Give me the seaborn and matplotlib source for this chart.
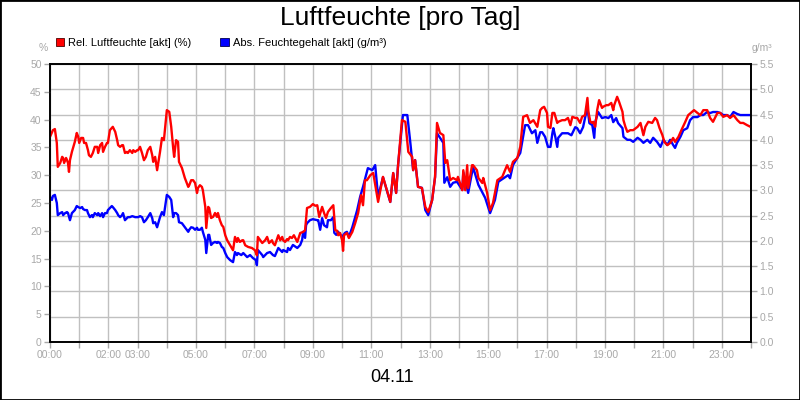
import pandas as pd
import matplotlib.pyplot as plt
from matplotlib.patches import Patch, Rectangle
import seaborn as sns

# relative humidity [%], minutes after midnight
rel_min = [0, 6, 10, 14, 16, 21, 25, 27, 29, 33, 35, 37, 39, 41, 45, 51, 55, 58, 60, 64,
           68, 70, 74, 78, 80, 84, 88, 92, 97, 99, 103, 107, 109, 113, 117, 119, 123, 127, 129, 134,
           138, 140, 144, 148, 150, 154, 158, 160, 164, 169, 171, 175, 179, 181, 185, 189, 193, 197, 201, 206,
           210, 212, 216, 220, 226, 230, 234, 240, 245, 249, 253, 255, 259, 263, 265, 271, 277, 284, 286, 290,
           294, 298, 302, 304, 308, 312, 314, 319, 321, 325, 327, 331, 335, 339, 343, 345, 349, 353, 356, 360,
           364, 370, 376, 380, 384, 386, 390, 395, 397, 401, 407, 415, 421, 425, 427, 432, 436, 442, 446, 450,
           456, 458, 462, 469, 473, 477, 479, 483, 487, 489, 493, 497, 501, 508, 514, 520, 524, 528, 534, 540,
           545, 549, 553, 559, 563, 567, 571, 577, 582, 586, 590, 592, 596, 600, 602, 604, 610, 614, 621, 627,
           633, 639, 643, 647,
           651, 658, 664, 674, 684, 699, 705, 711, 715, 723, 730, 736, 744, 746, 750, 756, 764, 771, 777, 785,
           791, 795, 801, 808, 812, 816, 822, 828, 836, 838, 847, 849, 853, 857, 859, 867, 869, 877, 880, 888,
           890, 898, 904, 910, 919, 929, 939, 945, 951, 960, 966, 972, 980, 986, 993, 1001, 1007,
           1011, 1015, 1021, 1023, 1028, 1032, 1036, 1042, 1044, 1052, 1058, 1064, 1069, 1073, 1079,
           1083, 1089, 1093, 1099, 1104, 1106, 1110, 1114, 1116, 1120, 1124, 1128, 1134, 1136, 1143, 1147, 1153, 1157, 1159, 1165,
           1169, 1176, 1178, 1182, 1186, 1192, 1198, 1207, 1213, 1219, 1223, 1229, 1237, 1243, 1247, 1252, 1258, 1262, 1268, 1274,
           1280, 1284, 1291, 1297, 1305, 1311, 1319, 1323, 1330, 1336, 1342, 1350, 1356, 1362, 1371, 1377, 1383, 1391, 1397, 1404,
           1412, 1418, 1424, 1432, 1439]
rel_val = [36.9, 38.1, 38.3, 35.8, 31.5, 32.2, 33.3, 33.1, 32.2, 33.1, 32.7, 32.2, 30.6, 32.7, 34.2, 36.0, 37.6, 36.9, 35.8, 36.7,
           36.7, 35.8, 35.8, 34.5, 33.6, 33.3, 34.0, 35.1, 35.1, 34.0, 35.4, 35.8, 34.2, 35.1, 35.8, 35.8, 38.1, 38.5, 38.7, 37.8,
           36.3, 35.4, 35.1, 35.4, 35.4, 34.0, 34.2, 34.0, 34.5, 34.0, 34.5, 34.2, 34.5, 34.5, 35.1, 34.0, 32.7, 33.3, 34.5, 35.1,
           33.6, 32.4, 33.3, 30.9, 34.2, 36.7, 36.3, 41.7, 41.4, 38.7, 34.9, 33.3, 36.3, 36.0, 32.4, 31.3, 29.5, 27.9, 28.2, 29.1,
           29.1, 28.6, 26.8, 27.7, 28.2, 27.9, 27.3, 24.3, 20.5, 24.3, 24.1, 22.3, 22.5, 23.2, 22.5, 23.2, 21.9, 21.0, 20.7, 19.2,
           18.3, 17.4, 16.5, 18.9, 18.0, 18.7, 18.0, 18.3, 18.3, 17.4, 17.1, 16.9, 16.5, 15.6, 18.9, 18.3, 17.8, 18.3, 18.9, 17.8,
           18.3, 17.8, 17.4, 19.2, 18.3, 18.9, 18.3, 18.0, 18.5, 18.3, 18.9, 18.7, 19.2, 18.0, 19.6, 19.8, 20.1, 24.1, 24.3, 24.8,
           24.5, 24.6, 22.5, 24.3, 23.2, 22.3, 23.4, 24.1, 24.6, 20.1, 20.0, 19.2, 19.6, 18.3, 16.4, 19.2, 19.6, 18.7, 19.8, 21.4,
           23.2, 26.4, 24.6, 29.1,
           29.1, 30.0, 30.4, 25.2, 29.7, 25.2, 30.4, 26.8, 31.8, 39.9, 39.6, 34.2, 33.3, 30.9, 32.7, 27.9, 27.7, 24.3, 23.4, 25.5,
           29.7, 39.4, 37.6, 37.2, 32.2, 32.7, 29.1, 29.5, 29.1, 29.7, 27.3, 30.9, 27.3, 31.8, 27.7, 31.8, 31.8, 30.9, 29.5, 28.6,
           29.5, 26.8, 23.7, 25.0, 29.1, 29.7, 31.8, 30.6, 32.4, 33.1, 35.1, 40.5, 40.8, 39.4, 39.9, 38.7, 41.7,
           42.1, 42.3, 41.2, 38.7, 38.5, 41.2, 41.2, 39.4, 39.6, 39.9, 39.9, 40.3, 39.0, 40.5, 40.3,
           40.3, 39.4, 40.5, 40.8, 43.9, 41.4, 39.6, 39.4, 39.6, 38.7, 41.7, 43.5, 42.1, 42.3, 42.6, 42.6, 43.0, 41.7, 42.6, 44.1,
           43.2, 41.4, 39.9, 38.7, 37.8, 38.1, 38.1, 38.7, 39.4, 37.2, 38.7, 39.6, 39.4, 40.3, 39.9, 38.5, 37.2, 36.0, 35.4, 35.8,
           36.7, 36.0, 36.9, 38.1, 39.6, 40.8, 41.4, 41.7, 41.2, 40.8, 41.7, 41.7, 40.3, 39.6, 41.2, 41.2, 40.5, 40.8, 40.3, 40.8,
           39.9, 39.4, 39.4, 39.0, 38.7]

# absolute moisture content [g/m³], minutes after midnight
abs_min = [0, 4, 6, 10, 14, 16, 21, 25, 27, 31, 35, 37, 41, 45, 51, 55, 58, 62, 66, 68,
           72, 76, 78, 82, 86, 88, 92, 97, 99, 103, 107, 109, 113, 117, 119, 123, 127, 129, 134, 138,
           140, 144, 148, 150, 154, 158, 160, 164, 169, 175, 181, 185, 189, 193, 197, 201, 206, 210, 212, 216,
           220, 226, 230, 234, 240, 245, 249, 253, 255, 259, 263, 265, 271, 277, 284, 286, 290, 294, 298, 302,
           304, 308, 312, 314, 319, 321, 325, 327, 331, 335, 339, 343, 345, 349, 353, 356, 360,
           364, 370, 376, 380, 384, 386, 393, 397, 405, 411, 417, 423, 425, 427, 436, 438, 446, 452, 458, 462,
           469, 477, 479, 487, 489, 493, 499, 508, 514, 518, 520, 524, 526, 528, 534, 540, 549, 551, 555, 559,
           563, 569, 571, 577, 582, 584, 588, 592, 600, 606, 610, 614,
           621, 631, 637, 643, 651, 653, 662, 668, 674, 684, 699, 705, 711, 715, 725, 734, 740, 746, 750, 756,
           764, 771, 777, 785, 791, 795, 808, 810, 816, 822, 828, 836, 847, 849, 859, 869, 880, 894, 904, 914,
           921, 941, 945, 951, 966, 976, 982, 990, 997, 1001, 1007,
           1011, 1017, 1023, 1028, 1032, 1034, 1038, 1042, 1044, 1052, 1058, 1064, 1071, 1079,
           1083, 1089, 1095, 1104, 1108, 1114, 1118, 1120, 1126, 1134, 1141, 1147, 1153, 1157, 1163, 1167, 1176, 1178, 1186, 1192,
           1198, 1207, 1213, 1219, 1227, 1233, 1239, 1247, 1254, 1260, 1268, 1274, 1280, 1284, 1288, 1295, 1301, 1309, 1315, 1321,
           1330, 1336, 1342, 1350, 1356, 1362, 1371, 1377, 1383, 1391, 1397, 1404, 1412, 1418, 1424, 1432, 1439]
abs_val = [2.87, 2.81, 2.89, 2.91, 2.75, 2.51, 2.55, 2.57, 2.51, 2.55, 2.57, 2.55, 2.41, 2.55, 2.61, 2.69, 2.67, 2.65, 2.67, 2.63,
           2.61, 2.61, 2.55, 2.47, 2.51, 2.47, 2.55, 2.51, 2.55, 2.49, 2.55, 2.47, 2.55, 2.55, 2.61, 2.65, 2.69, 2.67, 2.61, 2.55,
           2.51, 2.47, 2.51, 2.55, 2.41, 2.45, 2.47, 2.47, 2.49, 2.47, 2.47, 2.49, 2.47, 2.37, 2.41, 2.47, 2.55, 2.45, 2.35, 2.37,
           2.27, 2.47, 2.57, 2.51, 2.91, 2.87, 2.81, 2.47, 2.55, 2.55, 2.51, 2.37, 2.35, 2.27, 2.18, 2.22, 2.27, 2.26, 2.22, 2.26,
           2.22, 2.22, 2.26, 2.18, 2.02, 1.76, 2.12, 2.12, 1.92, 1.96, 1.98, 1.96, 1.98, 1.96, 1.88, 1.86, 1.76,
           1.68, 1.62, 1.58, 1.78, 1.72, 1.76, 1.72, 1.76, 1.68, 1.72, 1.66, 1.62, 1.52, 1.82, 1.72, 1.68, 1.76, 1.78, 1.72, 1.70,
           1.86, 1.78, 1.82, 1.78, 1.86, 1.82, 1.92, 1.86, 1.92, 2.02, 2.18, 2.06, 2.31, 2.35, 2.41, 2.43, 2.41, 2.41, 2.22, 2.45,
           2.31, 2.27, 2.41, 2.41, 2.47, 2.16, 2.12, 2.18, 2.08, 2.16, 2.18, 2.08,
           2.27, 2.61, 2.87, 3.07, 3.36, 3.44, 3.40, 3.50, 2.87, 3.26, 2.77, 3.34, 2.95, 3.50, 4.49, 4.49, 3.96, 3.40, 3.60, 3.07,
           3.05, 2.61, 2.51, 2.81, 3.26, 4.13, 3.94, 3.15, 3.26, 3.07, 3.15, 3.17, 3.01, 3.36, 2.95, 3.46, 3.11, 2.85, 2.55, 2.81,
           3.17, 3.30, 3.24, 3.50, 3.74, 4.29, 4.29, 4.13, 4.19, 3.94, 4.15,
           4.15, 4.06, 3.86, 3.86, 4.13, 4.23, 4.06, 3.86, 4.04, 4.13, 4.13, 4.13, 4.09, 4.25,
           4.23, 4.13, 4.25, 4.65, 4.33, 4.29, 4.04, 4.35, 4.55, 4.43, 4.45, 4.43, 4.49, 4.35, 4.43, 4.33, 4.23, 4.06, 4.00, 4.00,
           3.96, 4.04, 4.00, 3.94, 4.00, 3.94, 4.04, 3.96, 3.86, 4.00, 3.90, 4.00, 3.90, 3.84, 3.94, 4.06, 4.19, 4.23, 4.39, 4.45,
           4.45, 4.49, 4.49, 4.55, 4.53, 4.55, 4.55, 4.53, 4.49, 4.49, 4.45, 4.55, 4.51, 4.49, 4.49, 4.49, 4.49]

hour_ticks = list(range(25))
hour_labels = ['00:00', '', '02:00', '03:00', '', '05:00', '', '07:00', '', '09:00', '', '11:00', '',
               '13:00', '', '15:00', '', '17:00', '', '19:00', '', '21:00', '', '23:00', '']
rel_ticks = [0, 5, 10, 15, 20, 25, 30, 35, 40, 45, 50]
abs_ticks = [0.0, 0.5, 1.0, 1.5, 2.0, 2.5, 3.0, 3.5, 4.0, 4.5, 5.0, 5.5]

rel = pd.DataFrame({'hour': [m / 60 for m in rel_min], 'value': rel_val})
ab = pd.DataFrame({'hour': [m / 60 for m in abs_min], 'value': abs_val})

sns.set_theme(style="white")
plt.rcParams['font.family'] = ['Liberation Sans', 'DejaVu Sans']
plt.rcParams['text.color'] = 'black'
grey = '#a8a8a8'

fig = plt.figure(figsize=(8, 4), dpi=100)
fig.patches.append(Rectangle((0, 0), 1, 1, transform=fig.transFigure, fill=False,
                             edgecolor='black', linewidth=2))
ax = fig.add_axes([0.0625, 0.145, 0.87625, 0.695])

# absolute humidity on the base axes (right scale), relative on top (left scale)
sns.lineplot(data=ab, x='hour', y='value', ax=ax, color='#0000ff', lw=1.7,
             estimator=None, sort=False)
ax2 = ax.twinx()
sns.lineplot(data=rel, x='hour', y='value', ax=ax2, color='#ff0000', lw=1.7,
             estimator=None, sort=False)

ax.set_xlim(0, 24)
ax.set_xticks(hour_ticks)
ax.set_xticklabels(hour_labels)
ax.set_ylim(0, 5.5)
ax.set_yticks(abs_ticks)
ax.set_yticklabels([f'{t:.1f}' for t in abs_ticks])
ax.yaxis.tick_right()
ax2.set_ylim(0, 50)
ax2.set_yticks(rel_ticks)
ax2.yaxis.tick_left()

ax.grid(True, color='#c0c0c0', lw=1)
ax.set_axisbelow(True)
for a in (ax, ax2):
    a.set_xlabel('')
    a.set_ylabel('')
    for s in a.spines.values():
        s.set_color('black')
        s.set_linewidth(1.2)
ax.tick_params(axis='both', colors=grey, labelsize=7.5, length=4, width=1,
               direction='out', pad=2, bottom=True, right=True)
ax2.tick_params(axis='y', colors=grey, labelsize=7.5, length=4, width=1,
                direction='out', pad=2, left=True, right=False, labelright=False, labelleft=True)

fig.text(0.5, 0.955, 'Luftfeuchte [pro Tag]', ha='center', va='center', fontsize=19, color='black')
fig.text(0.49, 0.055, '04.11', ha='center', va='center', fontsize=13, color='black')
fig.text(0.054, 0.88, '%', ha='center', va='center', fontsize=7.5, color=grey)
fig.text(0.94, 0.88, 'g/m³', ha='left', va='center', fontsize=7.5, color=grey)

handles = [Patch(facecolor='#ff0000', edgecolor='#500000', linewidth=0.6),
           Patch(facecolor='#0000ff', edgecolor='#000050', linewidth=0.6)]
leg = fig.legend(handles, ['Rel. Luftfeuchte [akt] (%)', 'Abs. Feuchtegehalt [akt] (g/m³)'],
                 loc='upper left', bbox_to_anchor=(0.07, 0.905), ncol=2, frameon=False,
                 fontsize=8, handlelength=0.75, handleheight=0.75, handletextpad=0.35,
                 columnspacing=2.6, borderpad=0, borderaxespad=0)
for t in leg.get_texts():
    t.set_color('black')

fig.savefig('out.png', dpi=100)
